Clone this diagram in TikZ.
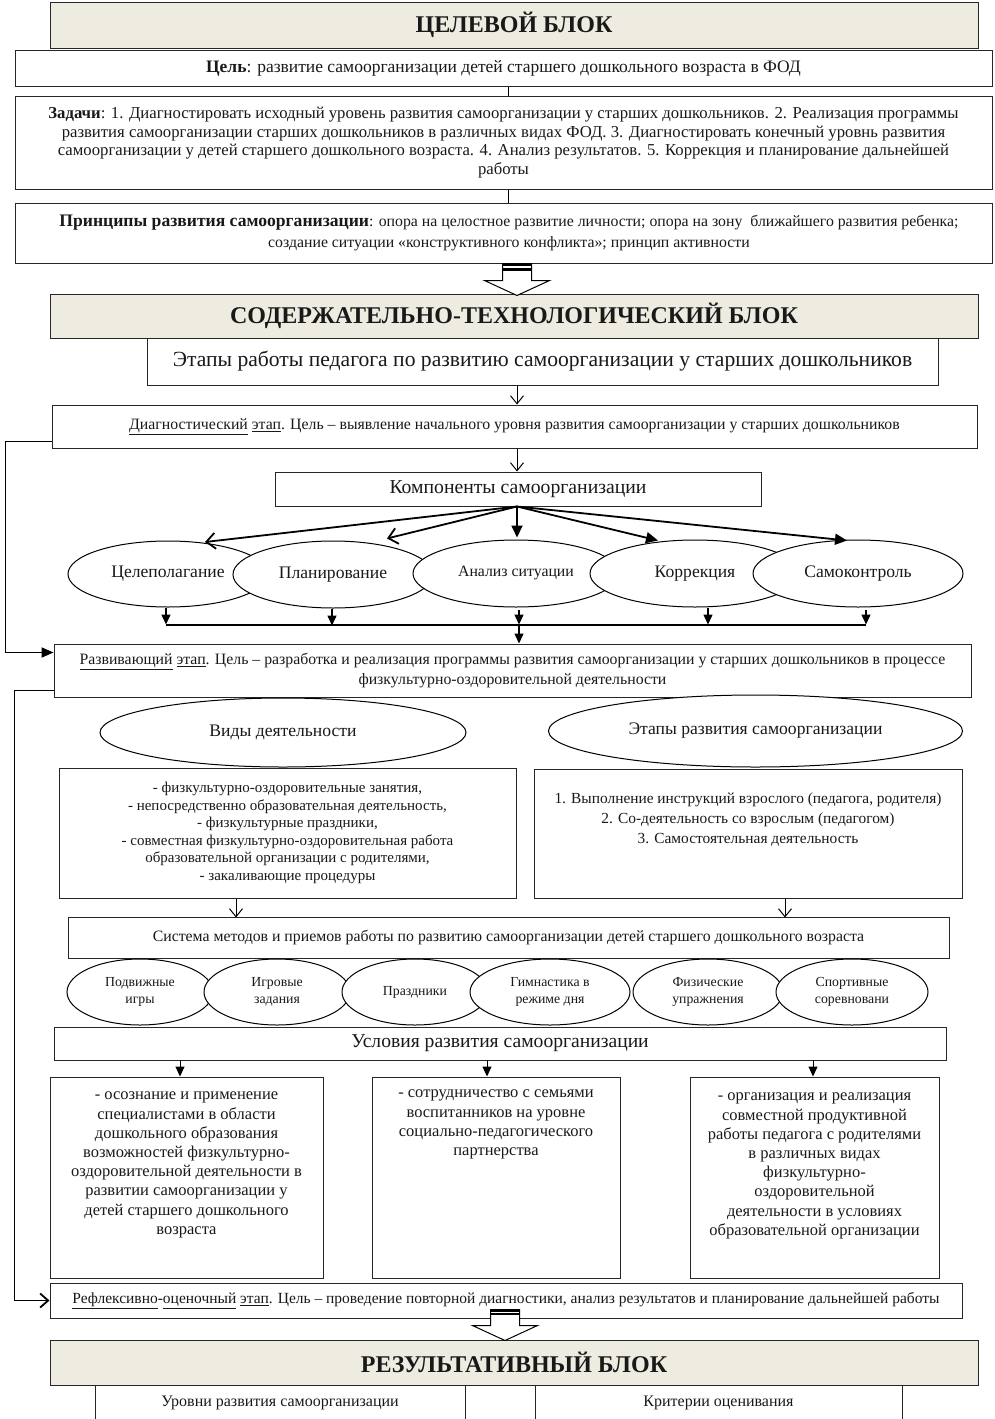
\documentclass[tikz,border=0pt]{standalone}
\usepackage{fontspec}
\setmainfont{Liberation Serif}
\usetikzlibrary{shapes.geometric,arrows.meta,calc,shadows}
\definecolor{beige}{HTML}{EEECE1}
\newcommand{\myfs}[2]{\fontsize{#1}{#2}\selectfont}
\begin{document}
\begin{tikzpicture}[x=1pt,y=-1pt,
  box/.style={draw=black!85, line width=1pt, fill=white, inner sep=0pt, align=center, text=black!90,
    drop shadow={shadow xshift=1.4pt, shadow yshift=-1.4pt, fill=black!55, opacity=1}},
  ttl/.style={box, fill=beige, font=\myfs{24}{28}\bfseries},
  ell/.style={ellipse, draw=black, line width=1pt, fill=white, inner sep=0pt, align=center, text=black!90},
  ln/.style={draw=black, line width=1pt},
  varr/.style={ln, -{Straight Barb[length=8pt,width=13pt]}},
  farr/.style={ln, -{Triangle[length=10pt,width=9pt]}},
  tvarr/.style={draw=black, line width=1.8pt, -{Straight Barb[length=9pt,width=16pt]}},
  tfarr/.style={draw=black, line width=1.8pt, -{Triangle[length=12pt,width=11pt]}},
  sfarr/.style={draw=black, line width=1.4pt, -{Triangle[length=10pt,width=9pt]}},
  barln/.style={draw=black, line width=2pt},
  fbln/.style={draw=black, line width=1.8pt},
  barrow/.style={draw=black, line width=1pt, fill=white}
]
\useasboundingbox (0,0) rectangle (994,1419);
\clip (0,0) rectangle (994,1419);
\fill[white] (0,0) rectangle (994,1419);

% ---------- target block
\node[ttl, minimum width=928pt, minimum height=46pt] (t1) at (514,25) {\raisebox{-2pt}{ЦЕЛЕВОЙ БЛОК}};
\node[box, minimum width=977pt, minimum height=36pt, font=\myfs{17.5}{20}] (cel) at (503.5,68)
  {\textbf{Цель}: развитие самоорганизации детей старшего дошкольного возраста в ФОД};
\node[box, minimum width=977pt, minimum height=93pt, font=\myfs{16.7}{18.5}] (zad) at (503.5,142.5)
  {\textbf{Задачи}: 1. Диагностировать исходный уровень развития самоорганизации у старших дошкольников. 2. Реализация программы\\
   развития самоорганизации старших дошкольников в различных видах ФОД. 3. Диагностировать конечный уровнь развития\\
   самоорганизации у детей старшего дошкольного возраста. 4. Анализ результатов. 5. Коррекция и планирование дальнейшей\\
   работы};
\node[box, minimum width=977pt, minimum height=60pt, font=\myfs{15.8}{21}] (prin) at (503.5,233)
  {\hspace*{11pt}{\myfs{17.6}{21}\bfseries Принципы развития самоорганизации}: опора на целостное развитие личности; опора на зону~ ближайшего развития ребенка;\\
   \hspace*{11pt}создание ситуации «конструктивного конфликта»; принцип активности};
\coordinate (ax0) at (508,0);
\coordinate (ax) at (517,0);
\draw[ln] (cel.south -| ax0) -- (zad.north -| ax0);
\draw[ln] (zad.south -| ax0) -- (prin.north -| ax0);

% ---------- content block
\node[ttl, minimum width=928pt, minimum height=44pt] (t2) at (514,316) {СОДЕРЖАТЕЛЬНО-ТЕХНОЛОГИЧЕСКИЙ БЛОК};
\coordinate (ba1) at (prin.south -| ax);
\draw[barrow] (ba1) ++(-14.5,0) -- ++(29,0) -- ++(0,17) -- ++(18,0) -- ++(-32.5,15) -- ++(-32.5,-15) -- ++(18,0) -- cycle;
\fill (ba1) ++(-14.5,0) rectangle ++(29,2.5);
\fill (ba1) ++(-14.5,4.5) rectangle ++(29,2.5);

\node[box, minimum width=791pt, minimum height=47pt, font=\myfs{21.6}{24}] (etap) at (542.5,361.5)
  {Этапы работы педагога по развитию самоорганизации у старших дошкольников};
\node[box, minimum width=925pt, minimum height=43pt, font=\myfs{15.8}{18}] (diag) at (514.5,426.5)
  {\raisebox{3pt}{\underline{Диагностический} \underline{этап}. Цель – выявление начального уровня развития самоорганизации у старших дошкольников}};
\node[box, minimum width=486pt, minimum height=34pt, font=\myfs{19.7}{22}] (komp) at (518,489) {Компоненты самоорганизации};
\draw[varr] (etap.south -| ax) -- (diag.north -| ax);
\draw[varr] (diag.south -| ax) -- (komp.north -| ax);

% components
\node[ell, minimum width=200pt, minimum height=66pt, font=\myfs{17.6}{20}] (e1) at (168,574) {Целеполагание};
\node[ell, minimum width=200pt, minimum height=67pt, font=\myfs{17.6}{20}] (e2) at (333,574.5) {Планирование};
\node[ell, minimum width=206pt, minimum height=67pt, font=\myfs{15.8}{18}] (e3) at (516,573.5) {\raisebox{4pt}{Анализ ситуации}};
\node[ell, minimum width=210pt, minimum height=67pt, font=\myfs{17.6}{20}] (e4) at (695,573.5) {Коррекция};
\node[ell, minimum width=210pt, minimum height=67pt, font=\myfs{17.6}{20}] (e5) at (858,573.5) {Самоконтроль};

\draw[tvarr] (komp.south -| ax) -- ($(e1.north)+(37,1.5)$);
\draw[tvarr] (komp.south -| ax) -- ($(e2.north)+(54,-2)$);
\draw[tfarr] (komp.south -| ax) -- ($(e3.north)+(1,-2)$);
\draw[tfarr] (komp.south -| ax) -- ($(e4.north)+(-37,1)$);
\draw[tfarr] (komp.south -| ax) -- ($(e5.north)+(-11,1)$);

\coordinate (barL) at (166,625);
\coordinate (barR) at (866,625);
\draw[barln] (barL) -- (barR);
\draw[sfarr] (e1.south) ++(-2,0) -- ++(0,17);
\draw[sfarr] (e2.south) ++(-1,0) -- ++(0,17);
\draw[sfarr] (e3.south) ++(3,2) -- ++(0,15);
\draw[sfarr] (e4.south) ++(13,0) -- ++(0,17);
\draw[sfarr] (e5.south) ++(8,2) -- ++(0,15);

\node[box, minimum width=917pt, minimum height=53pt, font=\myfs{15.8}{20}] (razv) at (512.5,670.5)
  {\underline{Развивающий} \underline{этап}. Цель – разработка и реализация программы развития самоорганизации у старших дошкольников в процессе\\
   физкультурно-оздоровительной деятельности};
\draw[sfarr] ($(e3.south |- barL)+(3,0)$) -- ($(e3.south |- razv.north)+(3,0)$);

% feedback lines
\draw[fbln, -{Triangle[length=12pt,width=10pt]}] ($(diag.south west)+(0,-7)$) -- ($(diag.south west)+(-46,-7)$) |- ($(razv.north west)+(0,9)$);

% kinds and stages
\node[ell, minimum width=366pt, minimum height=69pt, font=\myfs{17.6}{20}] (vid) at (283,732.5) {\raisebox{4pt}{Виды деятельности}};
\node[ell, minimum width=414pt, minimum height=72pt, font=\myfs{17.6}{20}] (etr) at (755.5,731) {Этапы развития самоорганизации};

\node[box, minimum width=457pt, minimum height=130pt, font=\myfs{15}{17.6}] (lvid) at (287.5,833)
  {- физкультурно-оздоровительные занятия,\\
   - непосредственно образовательная деятельность,\\
   - физкультурные праздники,\\
   - совместная физкультурно-оздоровительная работа\\
   образовательной организации с родителями,\\
   - закаливающие процедуры};
\node[box, minimum width=428pt, minimum height=129pt, font=\myfs{15.4}{20}] (retr) at (748,833.5)
  {\parbox[c][129pt][t]{420pt}{\centering\vspace*{20pt}\strut 1. Выполнение инструкций взрослого (педагога, родителя)\\
   2. Со-деятельность со взрослым (педагогом)\\
   3. Самостоятельная деятельность}};

\node[box, minimum width=881pt, minimum height=41pt, font=\myfs{15.8}{18}] (sys) at (508.5,937.5)
  {Система методов и приемов работы по развитию самоорганизации детей старшего дошкольного возраста};
\draw[varr] ($(lvid.south)+(-51.5,0)$) -- ($(lvid.south)+(-51.5,19)$);
\draw[varr] ($(retr.south)+(37,0)$) -- ($(retr.south)+(37,19)$);

% methods
\node[ell, minimum width=146pt, minimum height=66pt, font=\myfs{13.8}{17}] (m1) at (140,992) {Подвижные\\игры};
\node[ell, minimum width=146pt, minimum height=66pt, font=\myfs{13.8}{17}] (m2) at (277,992) {Игровые\\задания};
\node[ell, minimum width=146pt, minimum height=66pt, font=\myfs{13.8}{17}] (m3) at (415,992) {Праздники};
\node[ell, minimum width=160pt, minimum height=66pt, font=\myfs{13.8}{17}] (m4) at (550,992) {Гимнастика в\\режиме дня};
\node[ell, minimum width=150pt, minimum height=66pt, font=\myfs{13.8}{17}] (m5) at (708,992) {Физические\\упражнения};
\node[ell, minimum width=152pt, minimum height=66pt, font=\myfs{13.8}{17}] (m6) at (852,992) {Спортивные\\соревновани};

\node[box, minimum width=892pt, minimum height=33pt, font=\myfs{19.6}{22}] (usl) at (500,1043.5) {Условия развития самоорганизации};

\node[box, minimum width=273pt, minimum height=201pt, font=\myfs{16.5}{19.2}] (c1) at (186.5,1177.5)
  {\parbox[c][201pt][t]{265pt}{\centering\vspace*{9.5pt}\strut - осознание и применение\\
   специалистами в области\\ дошкольного образования\\ возможностей физкультурно-\\
   оздоровительной деятельности в\\ развитии самоорганизации у\\ детей старшего дошкольного\\ возраста}};
\node[box, minimum width=248pt, minimum height=201pt, font=\myfs{16.5}{19.2}] (c2) at (496,1177.5)
  {\parbox[c][201pt][t]{240pt}{\centering\vspace*{7.5pt}\strut - сотрудничество с семьями\\
   воспитанников на уровне\\ социально-педагогического\\ партнерства}};
\node[box, minimum width=249pt, minimum height=201pt, font=\myfs{16.5}{19.2}] (c3) at (814.5,1177.5)
  {\parbox[c][201pt][t]{241pt}{\centering\vspace*{10.5pt}\strut - организация и реализация\\
   совместной продуктивной\\ работы педагога с родителями\\ в различных видах\\ физкультурно-\\
   оздоровительной\\ деятельности в условиях\\ образовательной организации}};
\draw[farr] ($(c1.north)+(-6.5,-17)$) -- ($(c1.north)+(-6.5,0)$);
\draw[farr] ($(c2.north)+(-9,-17)$) -- ($(c2.north)+(-9,0)$);
\draw[farr] ($(c3.north)+(-1.5,-17)$) -- ($(c3.north)+(-1.5,0)$);

\node[box, minimum width=912pt, minimum height=35pt, font=\myfs{15.5}{18}] (refl) at (506,1300.5)
  {\underline{Рефлексивно}-\underline{оценочный} \underline{этап}. Цель – проведение повторной диагностики, анализ результатов и планирование дальнейшей работы};
\draw[fbln, -{Straight Barb[length=8pt,width=14pt]}] ($(razv.south west)+(0,-7)$) -- ($(razv.south west)+(-39,-7)$) |- (refl.west);

% ---------- result block
\node[ttl, minimum width=928pt, minimum height=45pt] (t3) at (514,1362.5) {РЕЗУЛЬТАТИВНЫЙ БЛОК};
\coordinate (ba2) at ($(refl.south)+(-1,-9)$);
\draw[barrow] (ba2) ++(-14.5,0) -- ++(29,0) -- ++(0,16) -- ++(18,0) -- ++(-32.5,15) -- ++(-32.5,-15) -- ++(18,0) -- cycle;
\fill (ba2) ++(-14.5,0) rectangle ++(29,2);
\fill (ba2) ++(-14.5,3.5) rectangle ++(29,2);

\node[box, minimum width=370pt, minimum height=36pt, font=\myfs{16}{18}] (u1) at (280,1403) {\raisebox{1pt}{Уровни развития самоорганизации}};
\node[box, minimum width=367pt, minimum height=36pt, font=\myfs{16}{18}] (u2) at (718.5,1403) {\raisebox{1pt}{Критерии оценивания}};
\end{tikzpicture}
\end{document}
